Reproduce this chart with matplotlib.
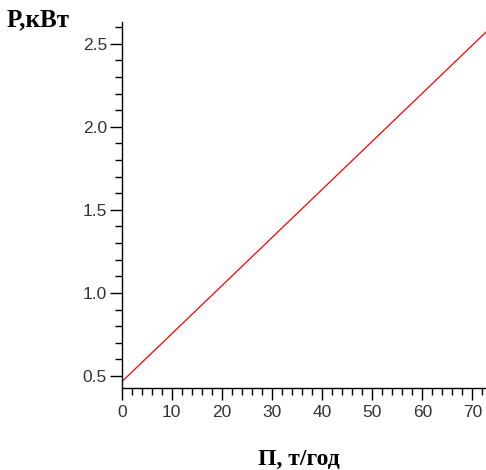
import matplotlib
matplotlib.use("Agg")
import matplotlib.pyplot as plt
from matplotlib.ticker import MultipleLocator, FormatStrFormatter

# ─── Data ─────────────────────────────────────────────────────────────────────
productivity = [0.0, 72.7]      # П, т/год
power = [0.465, 2.57]           # P, кВт

x_major = [0, 10, 20, 30, 40, 50, 60, 70]
y_major = [0.5, 1.0, 1.5, 2.0, 2.5]

# ─── Plot ─────────────────────────────────────────────────────────────────────
fig = plt.figure(figsize=(4.86, 4.70), dpi=100)
ax = fig.add_axes([0.2504, 0.1745, 0.7496, 0.7785])

ax.plot(productivity, power, color="#ff0000", lw=0.9)

ax.set_xlim(0, 72.7)
ax.set_ylim(0.428, 2.63)

for side in ("top", "right"):
    ax.spines[side].set_visible(False)
for side in ("left", "bottom"):
    ax.spines[side].set_linewidth(1.0)
    ax.spines[side].set_color("black")

ax.set_xticks(x_major)
ax.set_yticks(y_major)
ax.xaxis.set_minor_locator(MultipleLocator(2))
ax.yaxis.set_minor_locator(MultipleLocator(0.1))
ax.yaxis.set_major_formatter(FormatStrFormatter("%.1f"))

ax.tick_params(which="major", length=8.5, width=1.0, direction="out",
               labelsize=12.5, labelcolor="#333333")
ax.tick_params(which="minor", length=5, width=1.0, direction="out")
ax.tick_params(axis="y", which="major", pad=2)
ax.tick_params(axis="x", which="major", pad=4)
for lab in ax.get_xticklabels() + ax.get_yticklabels():
    lab.set_family("Liberation Sans")

fig.text(0.014, 0.943, "P,кВт", family="Liberation Serif", weight="bold",
         fontsize=18, ha="left", va="baseline")
fig.text(0.615, 0.01, "П, т/год", family="Liberation Serif", weight="bold",
         fontsize=17, ha="center", va="baseline")

fig.savefig("out.png", dpi=100)
